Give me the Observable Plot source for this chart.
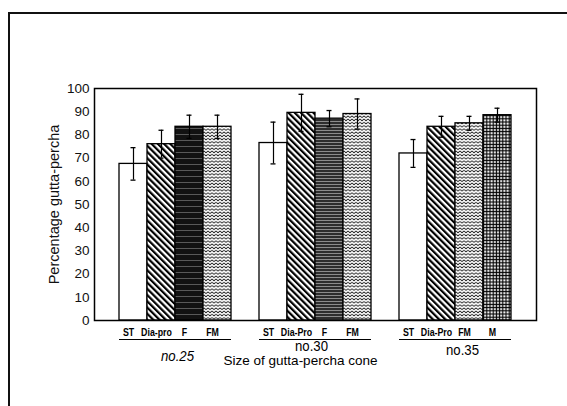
<!DOCTYPE html>
<html>
<head>
<meta charset="utf-8">
<script src="https://cdn.jsdelivr.net/npm/d3@7"></script>
<script src="https://cdn.jsdelivr.net/npm/@observablehq/plot@0.6"></script>
<style>
  html, body { margin: 0; padding: 0; background: #fff; }
  body { width: 567px; height: 406px; position: relative; overflow: hidden; font-family: "Liberation Sans", Arial, sans-serif; }
  #outer { position: absolute; left: 8px; top: 12px; width: 600px; height: 420px; border-left: 2px solid #111; border-top: 2px solid #111; }
  #chart { position: absolute; left: 0; top: 0; }
</style>
</head>
<body>
<div id="outer"></div>
<div id="chart"></div>
<script>
// ---- data ----
const groups = ["no.25", "no.30", "no.35"];
const barLabels = [
  ["ST", "Dia-pro", "F", "FM"],
  ["ST", "Dia-Pro", "F", "FM"],
  ["ST", "Dia-Pro", "FM", "M"]
];
const means = [
  [67.5, 76, 83.5, 83.5],
  [76.5, 89.5, 87, 89],
  [72, 83.5, 85, 88.5]
];
const errors = [
  [7, 6, 5, 5],
  [9, 8, 3.5, 6.5],
  [6, 4.5, 3, 3]
];
const yTicks = [0, 10, 20, 30, 40, 50, 60, 70, 80, 90, 100];
const yLabel = "Percentage gutta-percha";
const xTitle = "Size of gutta-percha cone";

// ---- build table ----
const rows = [];
groups.forEach((g, gi) => {
  barLabels[gi].forEach((lab, bi) => {
    rows.push({group: g, gi, label: lab, key: g + "|" + lab, mean: means[gi][bi], err: errors[gi][bi]});
  });
});
const domain = [];
groups.forEach((g, gi) => {
  if (gi > 0) domain.push("gap" + gi);
  barLabels[gi].forEach(lab => domain.push(g + "|" + lab));
});
function patternId(d) {
  const l = d.label.toLowerCase();
  if (l === "st") return "url(#p-st)";
  if (l.startsWith("dia")) return "url(#p-diag)";
  if (l === "f") return d.gi === 0 ? "url(#p-f1)" : "url(#p-f2)";
  if (l === "fm") return "url(#p-wave)";
  return "url(#p-grid)";
}
const groupInfo = groups.map((g, gi) => ({
  group: g, gi,
  first: g + "|" + barLabels[gi][0],
  last: g + "|" + barLabels[gi][barLabels[gi].length - 1],
  mid: g + "|" + barLabels[gi][2]
}));
// label placement (style only)
const groupLabelStyle = [
  {dx: -12, dy: 36, fontStyle: "italic"},
  {dx: -18, dy: 26, fontStyle: "normal"},
  {dx: -7, dy: 30, fontStyle: "normal"}
];

const plot = Plot.plot({
  width: 567,
  height: 406,
  marginLeft: 94,
  marginRight: 31,
  marginTop: 88,
  marginBottom: 86,
  style: {fontFamily: "'Liberation Sans', Arial, sans-serif", fontSize: "13px", background: "transparent", color: "#111"},
  x: {type: "band", domain, paddingInner: 0, paddingOuter: 0.7, axis: null},
  y: {domain: [0, 100], ticks: yTicks, tickSize: 0, tickPadding: 5, label: yLabel, labelAnchor: "center", labelOffset: 46, labelArrow: "none"},
  color: {type: "identity"},
  marks: [
    Plot.barY(rows, {x: "key", y: "mean", fill: patternId, stroke: "#000", strokeWidth: 1.3}),
    Plot.ruleX(rows, {x: "key", y1: d => d.mean - d.err, y2: d => d.mean + d.err, stroke: "#000", strokeWidth: 1.2}),
    Plot.tickY(rows, {x: "key", y: d => d.mean + d.err, stroke: "#000", strokeWidth: 1.3, insetLeft: 11.5, insetRight: 11.5}),
    Plot.tickY(rows, {x: "key", y: d => d.mean - d.err, stroke: "#000", strokeWidth: 1.3, insetLeft: 11.5, insetRight: 11.5}),
    Plot.frame({stroke: "#000", strokeWidth: 1.5}),
    Plot.text(rows, {x: "key", text: "label", frameAnchor: "bottom", lineAnchor: "middle", dy: 12, dx: -5, fontSize: 11, fontWeight: "bold", fill: "#000", ariaLabel: () => "cat-label"}),
    Plot.ruleY(groupInfo, {x1: "first", x2: "last", y: () => 0, dy: 19, stroke: "#000", strokeWidth: 1.2}),
    ...groupInfo.map((gInfo, gi) => Plot.text([gInfo], {
      x: "mid", text: "group", frameAnchor: "bottom", lineAnchor: "middle",
      dx: groupLabelStyle[gi].dx, dy: groupLabelStyle[gi].dy, fontStyle: groupLabelStyle[gi].fontStyle,
      fontSize: 15, fill: "#000", ariaLabel: () => "group-label"
    })),
    Plot.text([xTitle], {x: () => groupInfo[1].mid, text: d => d, frameAnchor: "bottom", lineAnchor: "middle", dy: 40, dx: -29, fontSize: 13.5, fill: "#000"})
  ]
});

// horizontally condense some labels (the reference uses a narrow face)
function condense(selector, k) {
  d3.select(plot).selectAll(selector).each(function() {
    const t = this;
    let tr = t.getAttribute("transform");
    if (!tr) {
      const x = +t.getAttribute("x") || 0, y = +t.getAttribute("y") || 0;
      t.removeAttribute("x"); t.removeAttribute("y");
      tr = `translate(${x},${y})`;
    }
    t.setAttribute("transform", tr + ` scale(${k},1)`);
  });
}
condense('text[aria-label="cat-label"]', 0.8);
condense('text[aria-label="group-label"]', 0.88);
d3.select(plot).selectAll('g[aria-label="y-axis tick label"]').attr("font-size", 13.5);
d3.select(plot).selectAll('g[aria-label="y-axis label"]').attr("font-size", 14.5);

// patterns
const defs = d3.select(plot).insert("defs", ":first-child");
defs.append("pattern").attr("id", "p-st").attr("patternUnits", "userSpaceOnUse").attr("width", 4).attr("height", 4)
  .append("rect").attr("width", 4).attr("height", 4).attr("fill", "#fff");
const diag = defs.append("pattern").attr("id", "p-diag").attr("patternUnits", "userSpaceOnUse")
  .attr("width", 4.4).attr("height", 4.4).attr("patternTransform", "rotate(-45)");
diag.append("rect").attr("width", 4.4).attr("height", 4.4).attr("fill", "#fff");
diag.append("rect").attr("width", 2.2).attr("height", 4.4).attr("fill", "#000");
const f1 = defs.append("pattern").attr("id", "p-f1").attr("patternUnits", "userSpaceOnUse").attr("width", 8).attr("height", 6);
f1.append("rect").attr("width", 8).attr("height", 6).attr("fill", "#121212");
f1.append("rect").attr("y", 2).attr("width", 8).attr("height", 0.8).attr("fill", "#6a6a6a");
const f2 = defs.append("pattern").attr("id", "p-f2").attr("patternUnits", "userSpaceOnUse").attr("width", 8).attr("height", 3);
f2.append("rect").attr("width", 8).attr("height", 3).attr("fill", "#2e2e2e");
f2.append("rect").attr("y", 1).attr("width", 8).attr("height", 1).attr("fill", "#8c8c8c");
const wave = defs.append("pattern").attr("id", "p-wave").attr("patternUnits", "userSpaceOnUse").attr("width", 4).attr("height", 3.2);
wave.append("rect").attr("width", 4).attr("height", 3.2).attr("fill", "#fff");
wave.append("path").attr("d", "M0,0.7 L2,2.3 L4,0.7").attr("fill", "none").attr("stroke", "#000").attr("stroke-width", 0.9);
const grid = defs.append("pattern").attr("id", "p-grid").attr("patternUnits", "userSpaceOnUse").attr("width", 3.2).attr("height", 3.2);
grid.append("rect").attr("width", 3.2).attr("height", 3.2).attr("fill", "#000");
grid.append("rect").attr("x", 1).attr("y", 1).attr("width", 2).attr("height", 2).attr("fill", "#fff");

document.getElementById("chart").appendChild(plot);
</script>
</body>
</html>
